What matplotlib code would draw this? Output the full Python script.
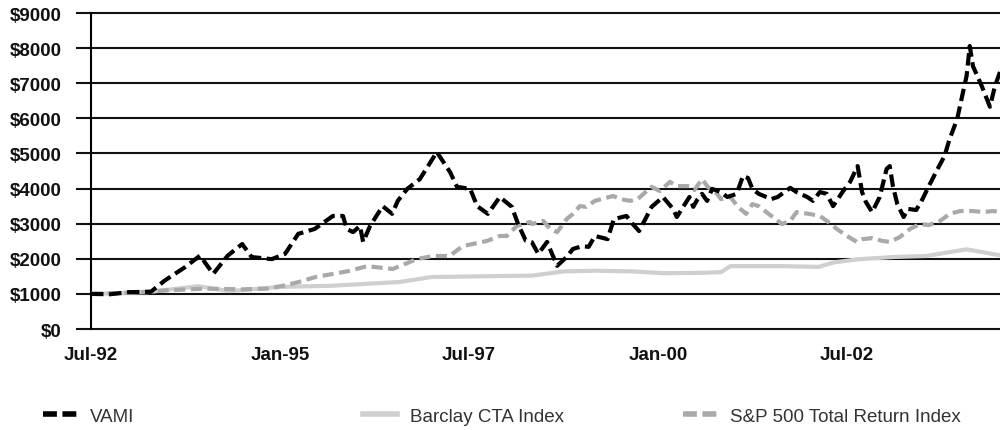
import matplotlib
matplotlib.use("Agg")
import matplotlib.pyplot as plt
from matplotlib.lines import Line2D

plt.rcParams['lines.scale_dashes'] = False
plt.rcParams['font.family'] = ['Liberation Sans', 'DejaVu Sans']

# months since Jul-1992
vami_m = [0, 3, 6, 9.5, 11.7, 15, 17.3, 19.4, 21.7, 24, 25.5, 28.7, 30.8, 32.9, 35.5,
          38.4, 40, 40.6, 41.6, 42.7, 43.2, 44.3, 46.3, 47.8, 48.7, 50.2, 52.2, 54.9, 57,
          58.1, 60.2, 61.3, 63, 64.9, 66.8, 67.8, 69, 70, 71, 72.4, 73, 74, 75.5, 76.5,
          78, 79, 80, 82, 83, 85, 86, 87, 88, 89, 90.8, 92.4, 93, 94, 95, 95.6, 96.3, 97,
          97.8, 98.6, 100, 101, 102.5, 103.5, 104.3, 105, 106, 108, 109, 111, 112, 113.7,
          114.6, 115.7, 116.8, 117.8, 119.4, 120.5, 121.7, 122.4, 123, 124, 125.2, 126.3,
          126.8, 127.3, 128, 129, 129.7, 131, 132, 133, 134.4, 135.5, 136.3, 137.5, 138.3,
          139, 139.5, 140, 141.4, 142.7, 143.5, 144.3]
vami_v = [1000, 990, 1050, 1060, 1380, 1770, 2090, 1570, 2090, 2420, 2050, 1990, 2140, 2710, 2850,
          3220, 3220, 2850, 2760, 2935, 2480, 2935, 3500, 3280, 3650, 3990, 4270, 5040, 4470,
          4050, 3990, 3500, 3280, 3760, 3480, 2990, 2520, 2470, 2140, 2480, 2220, 1800, 2050, 2280,
          2360, 2340, 2650, 2560, 3130, 3220, 2990, 2790, 3130, 3480, 3760, 3420, 3190, 3480, 3760, 3480, 3700, 3850,
          3650, 3990, 3900, 3760, 3850, 4360, 4300, 3990, 3850, 3700, 3760, 4020, 3900, 3760,
          3650, 3900, 3850, 3500, 3930, 4190, 4640, 3900, 3620, 3330, 3760, 4560,
          4640, 4070, 3560, 3190, 3420, 3390, 3700, 4070, 4560, 4930, 5410, 5980, 6640,
          7210, 8060, 7490, 6920, 6330, 6920, 7320]

sp_m = [0, 6, 12, 18, 24, 28, 31, 33, 35.6, 40.9, 43.8, 47.9, 51.7, 54.3, 56.9, 59, 62.9,
        64.9, 66, 67.6, 69.7, 70, 71.8, 72.9, 74, 75.5, 76.5, 77.6, 78.6, 80, 81, 82.9, 84,
        85.6, 86.8, 88.2, 89, 90.3, 91.9, 93, 95, 95.8, 97, 97.9, 99.4, 100, 101.5, 102.7,
        104, 105, 106, 108, 109.7, 111, 112, 114, 115.7, 116.8, 118.4, 120, 121.6, 122.5,
        124, 125.6, 126.8, 128.4, 130, 131.6, 133, 134.8, 136.3, 138, 140, 141.6, 143.2, 144.3]
sp_v = [1000, 1030, 1100, 1150, 1130, 1150, 1250, 1340, 1480, 1650, 1790, 1710, 1990, 2080, 2080, 2360, 2510,
        2650, 2650, 2935, 3050, 2990, 3080, 2850, 2760, 3130, 3280, 3500, 3480, 3650, 3700, 3790, 3700,
        3650, 3700, 3930, 4050, 3930, 4190, 4070, 4070, 3960, 4270, 4050, 3850, 3700, 3760, 3480,
        3280, 3560, 3500, 3220, 2990, 3080, 3330, 3280, 3220, 3080, 2850, 2650, 2480, 2560,
        2590, 2510, 2480, 2620, 2850, 2990, 2960, 3080, 3280, 3360, 3360, 3330, 3360, 3330]

cta_m = [0, 9, 17, 22, 30, 38, 49, 54, 65, 70, 75, 80, 86, 91, 97, 100, 101.5, 110, 115.5,
         118, 122, 127.3, 132.6, 139, 144.3]
cta_v = [1000, 1050, 1220, 1080, 1200, 1230, 1340, 1480, 1510, 1520, 1640, 1660, 1640, 1590,
         1600, 1620, 1790, 1790, 1770, 1900, 1990, 2050, 2080, 2270, 2100]

tick_pos = [0, 30, 60, 90, 120]
tick_labels = ['Jul-92', 'Jan-95', 'Jul-97', 'Jan-00', 'Jul-02']
y_ticks = [0, 1000, 2000, 3000, 4000, 5000, 6000, 7000, 8000, 9000]
y_labels = ['$0', '$1000', '$2000', '$3000', '$4000', '$5000', '$6000', '$7000', '$8000', '$9000']

fig = plt.figure(figsize=(10, 4.31), dpi=100)
ax = fig.add_axes([0.091, 0.2343, 0.909, 0.7332])

cta_col = '#cfcfcf'
sp_col = '#a9a9a9'

ax.plot(cta_m, cta_v, color=cta_col, lw=3, solid_capstyle='butt', zorder=3)
ax.plot(sp_m, sp_v, color=sp_col, lw=3, dashes=(8, 4), zorder=4)
ax.plot(vami_m, vami_v, color='black', lw=3, dashes=(9, 4), zorder=5)

ax.set_xlim(0, 144.3)
ax.set_ylim(0, 9000)
ax.set_yticks(y_ticks)
ax.set_yticklabels(y_labels)
ax.set_xticks(tick_pos)
ax.set_xticklabels(tick_labels)

for s in ['top', 'right', 'bottom']:
    ax.spines[s].set_visible(False)
ax.spines['left'].set_linewidth(1.5)
ax.spines['left'].set_color('black')

ax.yaxis.grid(True, color='#111111', linewidth=1.5)
ax.set_axisbelow(True)
for gl in ax.get_ygridlines():
    gl.set_clip_on(False)

ax.tick_params(axis='y', length=11, width=1.5, color='#111111', pad=10)
ax.tick_params(axis='x', length=0, pad=12)
for lab in ax.get_xticklabels() + ax.get_yticklabels():
    lab.set_fontweight('bold')
    lab.set_fontsize(13.5)
    lab.set_color('#111111')

handles = [
    Line2D([], [], color='black', lw=4, dashes=(10, 4)),
    Line2D([], [], color=cta_col, lw=4),
    Line2D([], [], color=sp_col, lw=4, dashes=(10, 4)),
]
names = ['VAMI', 'Barclay CTA Index', 'S&P 500 Total Return Index']
xs = [0.043, 0.363, 0.683]
for h, n, x0 in zip(handles, names, xs):
    fig.legend(handles=[h], labels=[n], loc='center left', bbox_to_anchor=(x0, 0.032),
               frameon=False, borderpad=0, borderaxespad=0, handlelength=1.8,
               handletextpad=0.7, prop={'size': 13.5}, labelcolor='#333333')

fig.savefig('out.png', dpi=100)
